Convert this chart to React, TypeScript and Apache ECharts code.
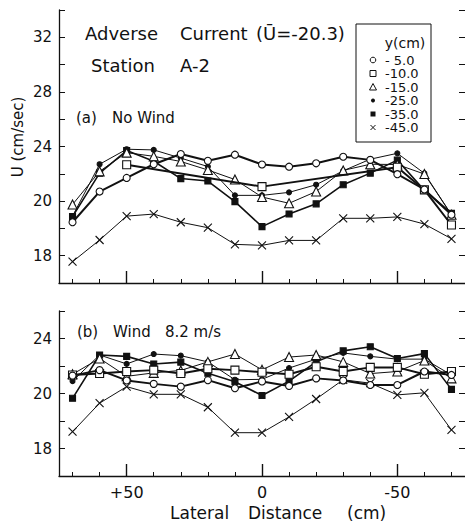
import React, { useEffect, useRef } from "react";
import * as echarts from "echarts";

const xValues = [70, 60, 50, 40, 30, 20, 10, 0, -10, -20, -30, -40, -50, -60, -70];
const depthNames = ["- 5.0", "-10.0", "-15.0", "-25.0", "-35.0", "-45.0"];

// (a) No Wind
const noWind5 = [18.45, 20.7, 21.7, 22.7, 23.45, 22.95, 23.4, 22.68, 22.52, 22.77, 23.25, 23.02, 21.97, 20.85, 19.0];
const noWind10 = [null, null, 22.66, null, null, null, null, 21.06, null, null, null, null, 22.48, 20.82, 18.25];
const noWind15 = [19.75, 22.18, 23.55, 23.28, 22.9, 22.28, 21.58, 20.3, 19.84, 20.7, 22.25, 22.7, 22.68, 21.98, 19.0];
const noWind25 = [18.9, 22.7, 23.8, 23.75, 23.15, 22.53, 20.42, 20.42, 20.64, 21.2, 22.22, 23.07, 23.5, 22.03, 19.0];
const noWind35 = [18.86, 22.05, 23.7, 22.92, 21.65, 21.47, 19.96, 18.13, 19.06, 19.8, 21.2, 22.05, 23.0, 20.8, 19.1];
const noWind45 = [15.56, 17.15, 18.9, 19.05, 18.45, 18.05, 16.83, 16.76, 17.12, 17.12, 18.74, 18.74, 18.84, 18.32, 17.24];

// (b) Wind 8.2 m/s
const wind5 = [21.3, 21.7, 20.95, 20.7, 20.5, 20.97, 20.38, 20.88, 20.55, 21.1, 20.95, 20.62, 20.62, 21.6, 21.35];
const wind10 = [21.35, 21.45, 21.6, 21.7, 21.45, 21.8, 21.7, 21.55, 21.4, 21.95, 21.6, 21.9, 21.9, 21.4, 21.6];
const wind15 = [21.4, 22.55, 21.25, 21.5, 21.68, 22.3, 22.87, 21.72, 22.65, 22.8, 22.3, 21.45, 21.6, 22.4, 21.1];
const wind25 = [20.9, 22.8, 22.15, 22.87, 22.75, 22.3, 21.0, 21.03, 21.85, 22.5, 22.95, 22.7, 22.5, 22.5, 21.35];
const wind35 = [19.65, 22.8, 22.7, 22.15, 22.28, 21.47, 20.86, 19.85, 20.9, 22.3, 23.1, 23.4, 22.55, 22.9, 20.3];
const wind45 = [17.22, 19.3, 20.5, 19.94, 19.94, 19.0, 17.15, 17.15, 18.3, 19.6, 21.0, 20.75, 19.9, 20.05, 17.35];

const xMinorTicks = [70, 60, 50, 40, 30, 20, 10, 0, -10, -20, -30, -40, -50, -60, -70];
const xMajorTicks = [50, 0, -50];
const yTopLabelValues = [16, 20, 24, 28, 32];
const yTopLabelTexts = ["18", "20", "24", "28", "32"];
const yBotLabelValues = [16, 20, 24];
const yBotLabelTexts = ["18", "20", "24"];

const FONT = "DejaVu Sans";
const BLACK = "#111";

const X_CROSS = "path://M0,0L10,10M10,0L0,10";

type Marker = { symbol: string; size: number; fill: string; width: number };
const markers: Marker[] = [
  { symbol: "circle", size: 7, fill: "#fff", width: 2 },
  { symbol: "rect", size: 8, fill: "#fff", width: 2 },
  { symbol: "triangle", size: 9, fill: "#fff", width: 1 },
  { symbol: "circle", size: 5, fill: BLACK, width: 1 },
  { symbol: "rect", size: 6, fill: BLACK, width: 1.6 },
  { symbol: X_CROSS, size: 8, fill: "transparent", width: 1 },
];

function makeSeries(values: (number | null)[], idx: number, axis: number) {
  const m = markers[idx];
  return {
    type: "line",
    name: depthNames[idx],
    xAxisIndex: axis === 0 ? 0 : 2,
    yAxisIndex: axis === 0 ? 0 : 2,
    data: xValues.map((x, i) => [x, values[i]]),
    connectNulls: true,
    symbol: m.symbol,
    symbolSize: m.size,
    showAllSymbol: true,
    lineStyle: { color: BLACK, width: m.width },
    itemStyle: { color: m.fill, borderColor: BLACK, borderWidth: 1.1 },
    emphasis: { disabled: true },
    z: 10 - idx,
  };
}

function xAxes(gridIndex: number, withLabels: boolean) {
  const base = {
    type: "value",
    gridIndex,
    position: "bottom",
    offset: 0,
    min: -75,
    max: 75,
    inverse: true,
    splitLine: { show: false },
  };
  return [
    {
      ...base,
      axisLine: { show: true, onZero: false, lineStyle: { color: BLACK, width: 1.3 } },
      axisTick: { show: true, inside: true, length: 4, customValues: xMinorTicks, lineStyle: { color: BLACK } },
      axisLabel: withLabels
        ? {
            show: true,
            customValues: xMajorTicks,
            margin: 8,
            fontFamily: FONT,
            fontSize: 16,
            color: BLACK,
            formatter: (v: number) => (v > 0 ? "+" + v : String(v)),
          }
        : { show: false },
    },
    {
      ...base,
      axisLine: { show: false, onZero: false },
      axisTick: { show: true, inside: true, length: 12, customValues: xMajorTicks, lineStyle: { color: BLACK, width: 1.4 } },
      axisLabel: { show: false },
    },
  ];
}

function yAxes(gridIndex: number, min: number, max: number, labelValues: number[], labelTexts: string[]) {
  return [
    {
      type: "value",
      gridIndex,
      min,
      max,
      interval: 2,
      position: "left",
      splitLine: { show: false },
      axisLine: { show: true, onZero: false, lineStyle: { color: BLACK, width: 1.3 } },
      axisTick: { show: true, inside: true, length: 6, lineStyle: { color: BLACK } },
      axisLabel: {
        show: true,
        customValues: labelValues,
        margin: 7,
        fontFamily: FONT,
        fontSize: 15,
        color: BLACK,
        formatter: (v: number) => labelTexts[labelValues.indexOf(v)] ?? "",
      },
    },
    {
      type: "value",
      gridIndex,
      min,
      max,
      interval: 2,
      position: "right",
      splitLine: { show: false },
      axisLine: { show: false, onZero: false },
      axisTick: { show: true, inside: true, length: 6, lineStyle: { color: BLACK } },
      axisLabel: { show: false },
    },
  ];
}

function txt(text: string, x: number, y: number, size: number, extra: any = {}) {
  return {
    type: "text",
    x,
    y,
    z: 100,
    style: {
      text,
      fontFamily: FONT,
      fontSize: size,
      fill: BLACK,
      align: "left",
      verticalAlign: "middle",
      ...extra,
    },
  };
}

function legendGraphics() {
  const g: any[] = [];
  g.push({
    type: "rect",
    shape: { x: 356, y: 24, width: 75, height: 118 },
    style: { fill: "#fff", stroke: BLACK, lineWidth: 1 },
    z: 90,
  });
  g.push(txt("y(cm)", 405, 43, 14, { align: "center" }));
  const rows = [60, 73.5, 87, 100.5, 114, 127.5];
  const sx = 373;
  rows.forEach((ry, i) => {
    const st = { stroke: BLACK, lineWidth: 1, fill: "#fff" };
    if (i === 0) g.push({ type: "circle", shape: { cx: sx, cy: ry, r: 2.8 }, style: st, z: 100 });
    if (i === 1) g.push({ type: "rect", shape: { x: sx - 3, y: ry - 3, width: 6, height: 6 }, style: st, z: 100 });
    if (i === 2)
      g.push({
        type: "polygon",
        shape: { points: [[sx, ry - 3.5], [sx + 3.5, ry + 3], [sx - 3.5, ry + 3]] },
        style: st,
        z: 100,
      });
    if (i === 3) g.push({ type: "circle", shape: { cx: sx, cy: ry, r: 2 }, style: { fill: BLACK }, z: 100 });
    if (i === 4) g.push({ type: "rect", shape: { x: sx - 2.5, y: ry - 2.5, width: 5, height: 5 }, style: { fill: BLACK }, z: 100 });
    if (i === 5) {
      g.push({ type: "line", shape: { x1: sx - 2.5, y1: ry - 2.5, x2: sx + 2.5, y2: ry + 2.5 }, style: { stroke: BLACK, lineWidth: 1 }, z: 100 });
      g.push({ type: "line", shape: { x1: sx + 2.5, y1: ry - 2.5, x2: sx - 2.5, y2: ry + 2.5 }, style: { stroke: BLACK, lineWidth: 1 }, z: 100 });
    }
    g.push(txt(depthNames[i], 385, ry, 13));
  });
  return g;
}

export default function App() {
  const ref = useRef<HTMLDivElement>(null);
  useEffect(() => {
    if (!ref.current) return;
    const chart = echarts.init(ref.current, null, { renderer: "svg" });
    const option: any = {
      animation: false,
      backgroundColor: "#fff",
      grid: [
        { left: 59, top: 10, width: 408, height: 273 },
        { left: 59, top: 311, width: 408, height: 165 },
      ],
      xAxis: [...xAxes(0, false), ...xAxes(1, true)],
      yAxis: [
        ...yAxes(0, 14, 34, yTopLabelValues, yTopLabelTexts),
        ...yAxes(1, 14, 26, yBotLabelValues, yBotLabelTexts),
      ],
      series: [
        makeSeries(noWind5, 0, 0),
        makeSeries(noWind10, 1, 0),
        makeSeries(noWind15, 2, 0),
        makeSeries(noWind25, 3, 0),
        makeSeries(noWind35, 4, 0),
        makeSeries(noWind45, 5, 0),
        makeSeries(wind5, 0, 1),
        makeSeries(wind10, 1, 1),
        makeSeries(wind15, 2, 1),
        makeSeries(wind25, 3, 1),
        makeSeries(wind35, 4, 1),
        makeSeries(wind45, 5, 1),
      ],
      graphic: [
        txt("Adverse", 85, 33, 18),
        txt("Current", 180, 33, 18),
        txt("(Ū=-20.3)", 256, 33, 18),
        txt("Station", 91, 65, 18),
        txt("A-2", 180, 65, 18),
        txt("(a)", 76, 118, 15),
        txt("No Wind", 112, 118, 15),
        txt("(b)", 77, 332, 15),
        txt("Wind", 113, 332, 15),
        txt("8.2 m/s", 165, 332, 15),
        txt("Lateral", 170, 513, 17),
        txt("Distance", 248, 513, 17),
        txt("(cm)", 347, 513, 17),
        {
          type: "text",
          x: 18,
          y: 137,
          rotation: Math.PI / 2,
          z: 100,
          style: {
            text: "U (cm/sec)",
            fontFamily: FONT,
            fontSize: 15,
            fill: BLACK,
            align: "center",
            verticalAlign: "middle",
          },
        },
        ...legendGraphics(),
      ],
    };
    chart.setOption(option);
    return () => chart.dispose();
  }, []);
  return <div ref={ref} style={{ position: "absolute", left: 0, top: 0, width: 465, height: 526 }} />;
}
